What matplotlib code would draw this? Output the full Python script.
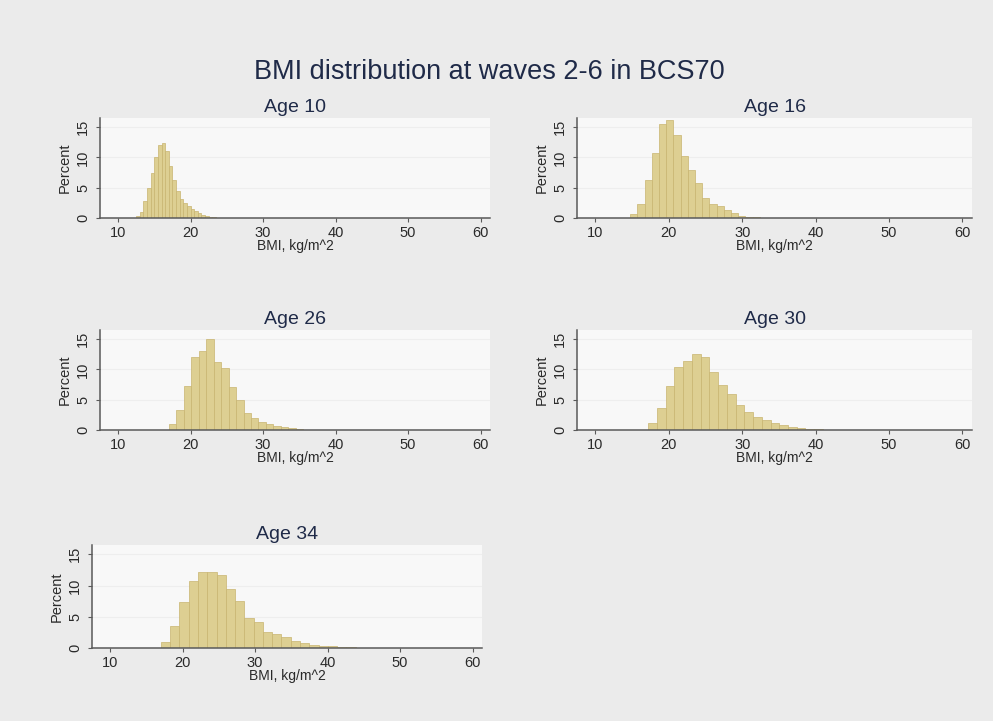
import matplotlib
matplotlib.use('Agg')
import matplotlib.pyplot as plt
import numpy as np

# percent per bin (bins: first left edge, width)
ages = ['Age 10', 'Age 16', 'Age 26', 'Age 30', 'Age 34']
bin_start = [12.5, 14.75, 17.0, 17.2, 17.0]
bin_width = [0.5, 0.98, 1.03, 1.19, 1.28]

pct10 = [0.3, 1.0, 2.8, 5.0, 7.5, 10.0, 12.0, 12.4, 11.0, 8.5, 6.2, 4.5,
         3.2, 2.5, 2.0, 1.5, 1.1, 0.8, 0.5, 0.35, 0.2, 0.1]
pct16 = [0.7, 2.3, 6.3, 10.7, 15.5, 16.1, 13.7, 10.2, 7.9, 5.7, 3.3, 2.3,
         1.9, 1.3, 0.8, 0.4, 0.2, 0.1]
pct26 = [1.0, 3.3, 7.2, 12.0, 13.0, 15.0, 11.2, 10.3, 7.1, 5.0, 2.8, 2.0,
         1.4, 1.0, 0.7, 0.45, 0.3, 0.15]
pct30 = [1.2, 3.6, 7.3, 10.4, 11.4, 12.6, 12.0, 9.6, 7.4, 5.9, 4.1, 2.9,
         2.1, 1.6, 1.2, 0.8, 0.45, 0.3, 0.15, 0.1]
pct34 = [1.0, 3.6, 7.4, 10.7, 12.2, 12.2, 11.7, 9.4, 7.6, 4.8, 4.2, 2.6,
         2.3, 1.8, 1.1, 0.76, 0.5, 0.35, 0.25, 0.15, 0.1]
all_pct = [pct10, pct16, pct26, pct30, pct34]

xticks = [10, 20, 30, 40, 50, 60]
yticks = [0, 5, 10, 15]

plt.rcParams['font.family'] = ['Liberation Sans', 'DejaVu Sans']

W, H = 993, 721
fig = plt.figure(figsize=(W / 100, H / 100), dpi=100, facecolor='#ebebeb')

# axes boxes in pixels: left, top, right, bottom
boxes = [(100, 118, 490, 218), (577, 118, 972, 218),
         (100, 330, 490, 430), (577, 330, 972, 430),
         (92, 545, 482, 648)]

fill = '#ddcf92'
edge = '#c8b470'
axcol = '#5a5a5a'
txtcol = '#1f2a48'

for i in range(5):
    l, t, r, b = boxes[i]
    ax = fig.add_axes([l / W, (H - b) / H, (r - l) / W, (b - t) / H])
    ax.set_facecolor('#f8f8f8')
    edges = bin_start[i] + bin_width[i] * np.arange(len(all_pct[i]))
    ax.bar(edges, all_pct[i], width=bin_width[i], align='edge',
           color=fill, edgecolor=edge, linewidth=0.5, zorder=2)
    ax.set_xlim(7.5, 61.3)
    ax.set_ylim(0, 16.5)
    ax.set_xticks(xticks)
    ax.set_yticks(yticks)
    ax.grid(axis='y', color='#eeeeee', linewidth=0.8, zorder=0)
    for s in ['top', 'right']:
        ax.spines[s].set_visible(False)
    for s in ['left', 'bottom']:
        ax.spines[s].set_color(axcol)
        ax.spines[s].set_linewidth(1.1)
    ax.tick_params(axis='both', colors=axcol, length=3, width=0.8,
                   labelsize=10.5, labelcolor='#2a2a2a')
    ax.tick_params(axis='x', pad=3)
    ax.tick_params(axis='y', pad=4)
    for lab in ax.get_yticklabels():
        lab.set_rotation(90)
        lab.set_va('center')
    ax.set_ylabel('Percent', fontsize=10.5, color='#2a2a2a', labelpad=3)
    ax.set_xlabel('BMI, kg/m^2', fontsize=10, color='#2a2a2a', labelpad=-1)
    ax.set_title(ages[i], fontsize=14, color=txtcol, pad=4)

fig.text(0.493, 0.9, 'BMI distribution at waves 2-6 in BCS70',
         ha='center', va='center', fontsize=19.5, color=txtcol)

fig.savefig('out.png', dpi=100, facecolor=fig.get_facecolor())
